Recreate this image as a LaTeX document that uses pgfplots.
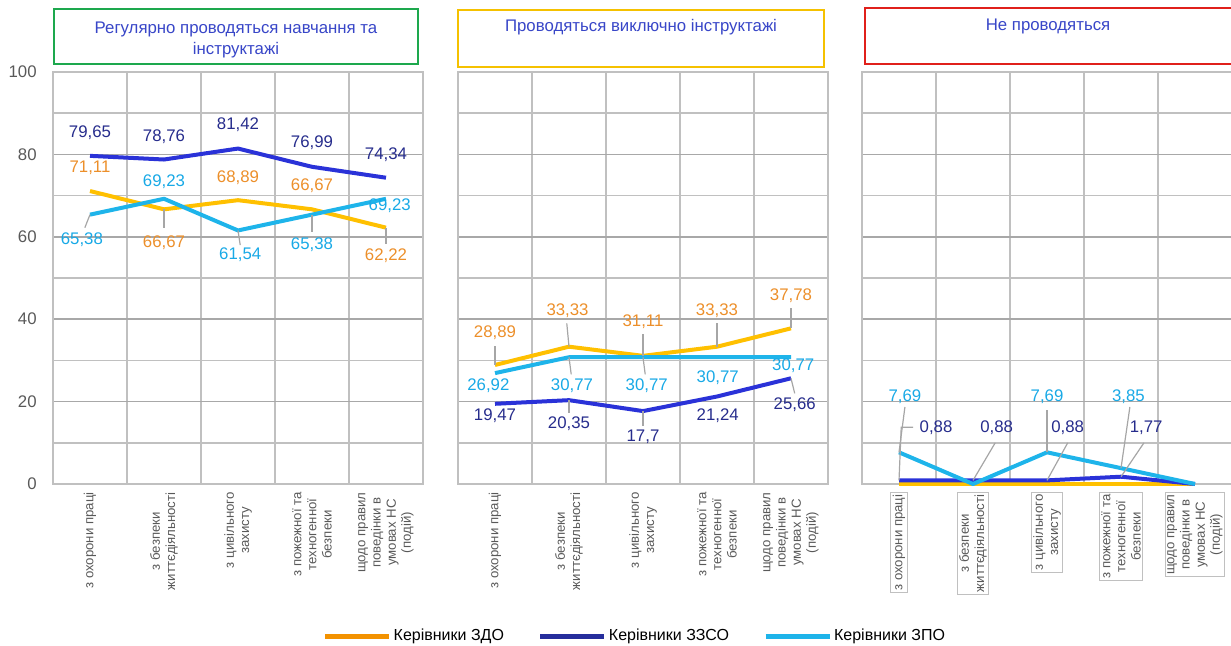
\documentclass[border=0pt]{standalone}
\usepackage{fontspec}
\setmainfont{Liberation Sans}
\usepackage{pgfplots}
\pgfplotsset{compat=1.18}

\definecolor{zdoLine}{HTML}{FFC000}
\definecolor{zdoText}{HTML}{EC8F2A}
\definecolor{zdoLeg}{HTML}{F39200}
\definecolor{zzsoLine}{HTML}{2A32D8}
\definecolor{zzsoText}{HTML}{262C8C}
\definecolor{zzsoLeg}{HTML}{262E9C}
\definecolor{zpoLine}{HTML}{1EB4EA}
\definecolor{zpoText}{HTML}{18A9E6}
\definecolor{gridc}{HTML}{C0C0C0}
\definecolor{gridM}{HTML}{A8A8A8}
\definecolor{tickc}{HTML}{595959}
\definecolor{titc}{HTML}{3846C8}
\definecolor{boxG}{HTML}{1DA84D}
\definecolor{boxY}{HTML}{F5C100}
\definecolor{boxR}{HTML}{E0201B}
\definecolor{leadc}{HTML}{A6A6A6}

\pgfplotsset{
  panel/.style={
    scale only axis, width=185pt, height=206pt, anchor=south west,
    xmin=0.5, xmax=5.5, ymin=0, ymax=100,
    xtick={1,2,3,4,5},
    minor xtick={1.5,2.5,3.5,4.5},
    ytick={0,20,40,60,80,100},
    minor ytick={10,30,50,70,90},
    xminorgrids=true, ymajorgrids=true, yminorgrids=true,
    major grid style={gridM, line width=0.75pt},
    minor grid style={gridc, line width=0.75pt},
    axis line style={gridc, line width=0.75pt},
    major tick length=0pt, minor tick length=0pt,
    xticklabels={з охорони праці, з безпеки\\життєдіяльності, з цивільного\\захисту, з пожежної та\\техногенної\\безпеки, щодо правил\\поведінки в\\умовах НС\\(подій)},
    xticklabel style={rotate=90, anchor=east, align=center, font=\fontsize{6.6}{7.6}\selectfont, text=tickc, inner sep=0pt},
    xticklabel shift=4pt,
    /pgf/number format/assume math mode=true,
    yticklabel style={font=\fontsize{8.4}{10}\selectfont, text=tickc, inner sep=0pt},
    yticklabel shift=8pt,
    clip=false,
  },
  noylabels/.style={yticklabels={,,,,,,}},
  zdo/.style={zdoLine, line width=2pt, line join=round, mark=none},
  zzso/.style={zzsoLine, line width=2pt, line join=round, mark=none},
  zpo/.style={zpoLine, line width=2pt, line join=round, mark=none},
}
\tikzset{
  lab/.style={font=\fontsize{8.4}{10}\selectfont, inner sep=0pt},
  lz/.style={lab, text=zdoText},
  ls/.style={lab, text=zzsoText},
  lp/.style={lab, text=zpoText},
  lead/.style={leadc, line width=0.6pt},
  ttext/.style={font=\fontsize{8.4}{10.5}\selectfont, text=titc, align=center},
}

\begin{document}
\begin{tikzpicture}
\useasboundingbox (0,0) rectangle (615.5pt,322.5pt);

% ---------- Panel 1 ----------
\begin{axis}[panel, at={(26.5pt,80.5pt)}]
\addplot[zdo] coordinates {(1,71.11) (2,66.67) (3,68.89) (4,66.67) (5,62.22)};
\addplot[zzso] coordinates {(1,79.65) (2,78.76) (3,81.42) (4,76.99) (5,74.34)};
\addplot[zpo] coordinates {(1,65.38) (2,69.23) (3,61.54) (4,65.38) (5,69.23)};
% leaders
\draw[lead] (axis cs:2,66.67) -- (axis cs:2,62.2);
\draw[lead] (axis cs:5,62.22) -- (axis cs:5,58.2);
\draw[lead] (axis cs:1,65.38) -- (axis cs:0.93,62.2);
\draw[lead] (axis cs:3,61.54) -- (axis cs:3.03,58.0);
\draw[lead] (axis cs:4,65.38) -- (axis cs:4,61.2);
% ZZSO labels
\node[ls] at (axis cs:1,85.2) {79,65};
\node[ls] at (axis cs:2,84.2) {78,76};
\node[ls] at (axis cs:3,87.1) {81,42};
\node[ls] at (axis cs:4,82.8) {76,99};
\node[ls] at (axis cs:5,79.9) {74,34};
% ZDO labels
\node[lz] at (axis cs:1,76.7) {71,11};
\node[lz] at (axis cs:2,58.5) {66,67};
\node[lz] at (axis cs:3,74.3) {68,89};
\node[lz] at (axis cs:4,72.3) {66,67};
\node[lz] at (axis cs:5,55.3) {62,22};
% ZPO labels
\node[lp] at (axis cs:0.89,59.2) {65,38};
\node[lp] at (axis cs:2,73.3) {69,23};
\node[lp] at (axis cs:3.03,55.6) {61,54};
\node[lp] at (axis cs:4,58.0) {65,38};
\node[lp] at (axis cs:5.05,67.5) {69,23};
\end{axis}

% ---------- Panel 2 ----------
\begin{axis}[panel, noylabels, at={(229pt,80.5pt)},
  legend style={at={(0.478,-0.369)}, anchor=center, draw=none, fill=none,
    legend columns=3, font=\fontsize{8}{10}\selectfont,
    /tikz/every even column/.append style={column sep=16pt},
    nodes={inner sep=1pt}},
  legend image code/.code={\draw[#1, line width=2.5pt] (0pt,0pt) -- (32pt,0pt);},
  legend cell align=left]
\addlegendimage{zdoLeg}
\addlegendentry{Керівники ЗДО}
\addlegendimage{zzsoLeg}
\addlegendentry{Керівники ЗЗСО}
\addlegendimage{zpoLine}
\addlegendentry{Керівники ЗПО}
\addplot[zdo, forget plot] coordinates {(1,28.89) (2,33.33) (3,31.11) (4,33.33) (5,37.78)};
\addplot[zzso, forget plot] coordinates {(1,19.47) (2,20.35) (3,17.7) (4,21.24) (5,25.66)};
\addplot[zpo, forget plot] coordinates {(1,26.92) (2,30.77) (3,30.77) (4,30.77) (5,30.77)};
% leaders
\draw[lead] (axis cs:1,28.89) -- (axis cs:1,33.6);
\draw[lead] (axis cs:2,33.33) -- (axis cs:1.97,39.0);
\draw[lead] (axis cs:3,31.11) -- (axis cs:3,36.4);
\draw[lead] (axis cs:4,33.33) -- (axis cs:4,39.0);
\draw[lead] (axis cs:5,37.78) -- (axis cs:5,42.6);
\draw[lead] (axis cs:2,30.77) -- (axis cs:2.03,26.6);
\draw[lead] (axis cs:3,30.77) -- (axis cs:3.03,26.6);
\draw[lead] (axis cs:2,20.35) -- (axis cs:2,17.3);
\draw[lead] (axis cs:3,17.7) -- (axis cs:3,14.2);
\draw[lead] (axis cs:5,25.66) -- (axis cs:5.05,22.0);
% ZDO labels
\node[lz] at (axis cs:1,36.7) {28,89};
\node[lz] at (axis cs:1.98,42.0) {33,33};
\node[lz] at (axis cs:3,39.3) {31,11};
\node[lz] at (axis cs:4,42.0) {33,33};
\node[lz] at (axis cs:5,45.6) {37,78};
% ZPO labels
\node[lp] at (axis cs:0.91,23.8) {26,92};
\node[lp] at (axis cs:2.04,23.8) {30,77};
\node[lp] at (axis cs:3.05,23.8) {30,77};
\node[lp] at (axis cs:4.01,25.7) {30,77};
\node[lp] at (axis cs:5.03,28.6) {30,77};
% ZZSO labels
\node[ls] at (axis cs:1,16.5) {19,47};
\node[ls] at (axis cs:2,14.6) {20,35};
\node[ls] at (axis cs:3,11.4) {17,7};
\node[ls] at (axis cs:4.01,16.5) {21,24};
\node[ls] at (axis cs:5.05,19.2) {25,66};
\end{axis}

% ---------- Panel 3 ----------
\begin{axis}[panel, noylabels, at={(431pt,80.5pt)},
  xticklabel style={draw=gridc, fill=white, inner sep=1pt, line width=0.5pt}]
\addplot[zdo] coordinates {(1,0) (2,0) (3,0) (4,0) (5,0)};
\addplot[zzso] coordinates {(1,0.88) (2,0.88) (3,0.88) (4,1.77) (5,0)};
\addplot[zpo] coordinates {(1,7.69) (2,0) (3,7.69) (4,3.85) (5,0)};
% leaders
\draw[lead] (axis cs:1,7.69) -- (axis cs:1.08,18.7);
\draw[lead] (axis cs:3,7.69) -- (axis cs:3,18.0);
\draw[lead] (axis cs:4,3.85) -- (axis cs:4.12,18.7);
\draw[lead] (axis cs:1,0.88) -- (axis cs:1.03,13.8) -- (axis cs:1.19,13.8);
\draw[lead] (axis cs:2,0.88) -- (axis cs:2.3,10);
\draw[lead] (axis cs:3,0.88) -- (axis cs:3.28,10);
\draw[lead] (axis cs:4,1.77) -- (axis cs:4.31,10);
% labels
\node[lp] at (axis cs:1.08,21.1) {7,69};
\node[lp] at (axis cs:3.0,21.1) {7,69};
\node[lp] at (axis cs:4.1,21.1) {3,85};
\node[ls] at (axis cs:1.5,13.6) {0,88};
\node[ls] at (axis cs:2.32,13.6) {0,88};
\node[ls] at (axis cs:3.28,13.6) {0,88};
\node[ls] at (axis cs:4.34,13.6) {1,77};
\end{axis}

% ---------- Title boxes ----------
\draw[draw=boxG, fill=white, line width=1pt] (27pt,290.5pt) rectangle (209pt,318pt);
\node[ttext, anchor=north] at (118pt,315pt) {Регулярно проводяться навчання та\\інструктажі};
\draw[draw=boxY, fill=white, line width=1pt] (229pt,289pt) rectangle (412pt,317.5pt);
\node[ttext] at (320.5pt,309pt) {Проводяться виключно інструктажі};
\draw[draw=boxR, fill=white, line width=1pt] (432.5pt,290.5pt) rectangle (616pt,318.5pt);
\node[ttext] at (524pt,309.5pt) {Не проводяться};
\end{tikzpicture}
\end{document}
